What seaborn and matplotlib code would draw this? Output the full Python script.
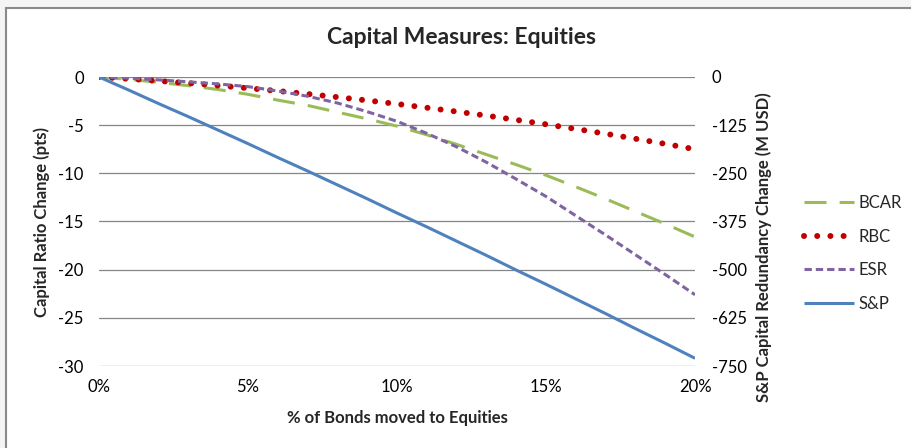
import matplotlib
matplotlib.use("Agg")
import matplotlib.pyplot as plt
from matplotlib.patches import Rectangle
from matplotlib.lines import Line2D
from matplotlib.ticker import FuncFormatter, MultipleLocator
import pandas as pd
import seaborn as sns

# % of bonds moved to equities
pct_moved = [0, 1, 2, 3, 4, 5, 6, 7, 8, 9, 10, 11, 12, 13, 14, 15, 16, 17, 18, 19, 20]

# Capital ratio change (pts)
bcar = [0, -0.25, -0.55, -0.9, -1.3, -1.8, -2.4, -2.95, -3.65, -4.35, -5.1,
        -6.0, -7.0, -8.05, -9.1, -10.2, -11.4, -12.65, -13.95, -15.25, -16.6]
rbc = [0, -0.19, -0.41, -0.64, -0.89, -1.16, -1.45, -1.76, -2.09, -2.43, -2.8,
       -3.19, -3.59, -4.01, -4.45, -4.91, -5.39, -5.89, -6.41, -6.94, -7.5]
esr = [0, -0.12, -0.3, -0.5, -0.72, -1.0, -1.45, -2.0, -2.7, -3.6, -4.6,
       -5.85, -7.25, -8.85, -10.6, -12.4, -14.4, -16.4, -18.45, -20.5, -22.6]

# S&P capital redundancy change (M USD)
sp = [0, -34, -69, -103, -138, -173, -209, -244, -280, -316, -353,
      -389, -426, -463, -501, -538, -576, -614, -653, -691, -730]

series_names = ["BCAR", "RBC", "ESR", "S&P"]
colors = {"BCAR": "#9BBB59", "RBC": "#C00000", "ESR": "#8064A2", "S&P": "#4F81BD"}

df = pd.DataFrame({"pct": pct_moved, "BCAR": bcar, "RBC": rbc, "ESR": esr, "S&P": sp})

sns.set_style("white")
plt.rcParams["font.family"] = ["Lato", "DejaVu Sans"]
plt.rcParams["axes.unicode_minus"] = False

W, H = 912, 448
fig = plt.figure(figsize=(W / 100, H / 100), dpi=100)
fig.patch.set_facecolor("#f4f4f4")
fig.add_artist(Rectangle((6.5 / W, -0.05), 1.0, (H - 8.5) / H + 0.05,
                         transform=fig.transFigure, facecolor="white",
                         edgecolor="#8a8a8a", lw=1.5, zorder=0))

L, R, T, B = 99, 695, 77, 366
ax = fig.add_axes([L / W, 1 - B / H, (R - L) / W, (B - T) / H])
ax.set_facecolor("none")
ax2 = ax.twinx()

line_styles = {
    "BCAR": dict(lw=2.2, linestyle=(0, (7.2, 4.3)), dash_capstyle="butt"),
    "RBC": dict(lw=4.3, linestyle=(0, (0.01, 2.2)), dash_capstyle="round"),
    "ESR": dict(lw=2.2, linestyle=(0, (2.4, 1.3)), dash_capstyle="butt"),
    "S&P": dict(lw=2.2, linestyle="-", solid_capstyle="butt"),
}

for name in ["BCAR", "RBC", "ESR"]:
    sns.lineplot(data=df, x="pct", y=name, ax=ax, color=colors[name],
                 **line_styles[name])
sns.lineplot(data=df, x="pct", y="S&P", ax=ax2, color=colors["S&P"],
             **line_styles["S&P"])

ax.set_xlim(0, 20)
ax.set_ylim(-30, 0)
ax2.set_ylim(-750, 0)
ax.xaxis.set_major_locator(MultipleLocator(5))
ax.yaxis.set_major_locator(MultipleLocator(5))
ax2.yaxis.set_major_locator(MultipleLocator(125))
ax.xaxis.set_major_formatter(FuncFormatter(lambda v, p: f"{v:.0f}%"))

ax.grid(axis="y", color="#868686", lw=0.9)
ax.grid(axis="x", visible=False)
ax2.grid(False)
for a in (ax, ax2):
    for s in a.spines.values():
        s.set_visible(False)
    a.set_xlabel("")
    a.set_ylabel("")

ax.tick_params(axis="y", length=0, pad=11, labelsize=12, colors="black")
ax.tick_params(axis="x", length=0, pad=9, labelsize=12, colors="black")
ax2.tick_params(axis="y", length=0, pad=12, labelsize=12, colors="black")

fig.text(462 / W, 1 - 38 / H, "Capital Measures: Equities", ha="center",
         va="center", fontsize=16.5, fontweight="bold")
fig.text(42 / W, 1 - 222 / H, "Capital Ratio Change (pts)", ha="center",
         va="center", rotation=90, fontsize=12, fontweight="bold")
fig.text(764 / W, 1 - 247 / H, "S&P Capital Redundancy Change (M USD)",
         ha="center", va="center", rotation=90, fontsize=12, fontweight="bold")
fig.text((L + R) / 2 / W, 1 - 418 / H, "% of Bonds moved to Equities",
         ha="center", va="center", fontsize=12, fontweight="bold")

handles = [Line2D([], [], color=colors[n], **line_styles[n]) for n in series_names]
fig.legend(handles, series_names, loc="upper left",
           bbox_to_anchor=(804 / W, 1 - 195 / H), frameon=False,
           fontsize=12, handlelength=3.0, handletextpad=0.25,
           labelspacing=1.05, borderpad=0, borderaxespad=0)

fig.savefig("out.png", dpi=100, facecolor=fig.get_facecolor())
